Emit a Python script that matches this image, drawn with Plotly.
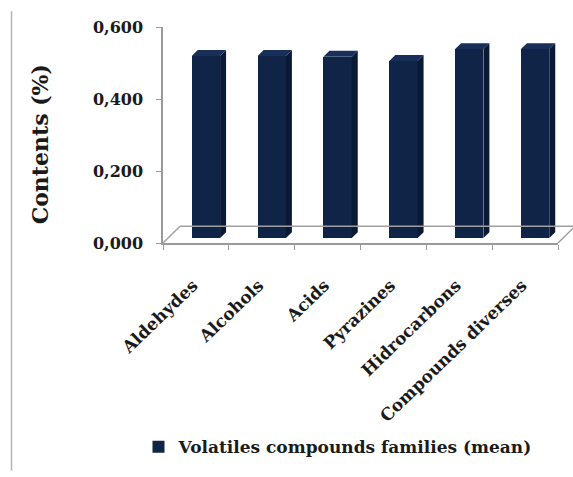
import plotly.graph_objects as go

# Mean content of each volatile compound family
categories = ["Aldehydes", "Alcohols", "Acids", "Pyrazines", "Hidrocarbons", "Compounds diverses"]
values = [0.506, 0.506, 0.504, 0.492, 0.525, 0.525]
y_ticks = [0.0, 0.2, 0.4, 0.6]
series_name = "Volatiles compounds families (mean)"
y_title = "Contents (%)"

W, H = 573, 477
M_L, M_R, M_T, M_B = 163, 15, 27, 231
plot_w = W - M_L - M_R
plot_h = H - M_T - M_B
y_max = 0.6
px_x = len(categories) / plot_w          # category units per pixel
px_y = y_max / plot_h                    # value units per pixel


def px_to_paper_x(px):
    return (px - M_L) / plot_w


def px_to_paper_y(py):
    return (H - M_B - py) / plot_h


# pseudo-3D geometry (in pixels)
bar_shift_x = 10                         # bars sit a bit back in the depth
bar_shift_y = 5
depth_px = 6
bar_width = 0.43

TXT = "#1a1a1a"
FONT = dict(family="DejaVu Serif", size=16, color=TXT, weight="bold")
NAVY = "#0f2447"
NAVY_SIDE = "#0a1a34"
NAVY_TOP = "#183059"

idx = list(range(len(categories)))
dx = depth_px * px_x
dy = depth_px * px_y

side_x, side_y, top_x, top_y = [], [], [], []
for i, v in zip(idx, values):
    xl, xr = i - bar_width / 2, i + bar_width / 2
    side_x += [xr, xr, xr + dx, xr + dx, xr, None]
    side_y += [0, v, v + dy, dy, 0, None]
    top_x += [xl, xr, xr + dx, xl + dx, xl, None]
    top_y += [v, v, v + dy, v + dy, v, None]

fig = go.Figure()
fig.add_trace(go.Bar(
    x=idx, y=values, width=bar_width, name=series_name,
    marker=dict(color=NAVY, line=dict(width=0)),
    xaxis="x2", yaxis="y2", showlegend=True,
))
fig.add_trace(go.Scatter(
    x=side_x, y=side_y, fill="toself", fillcolor=NAVY_SIDE, mode="lines",
    line=dict(width=0, color=NAVY_SIDE), xaxis="x2", yaxis="y2",
    showlegend=False, hoverinfo="skip",
))
fig.add_trace(go.Scatter(
    x=top_x, y=top_y, fill="toself", fillcolor=NAVY_TOP, mode="lines",
    line=dict(width=0, color=NAVY_TOP), xaxis="x2", yaxis="y2",
    showlegend=False, hoverinfo="skip",
))
# invisible trace to carry the category axis
fig.add_trace(go.Scatter(x=categories, y=[None] * len(categories), mode="markers",
                         showlegend=False, hoverinfo="skip"))

shift_x = bar_shift_x * px_x
shift_y = bar_shift_y * px_y
floor_d = 17  # depth of the floor, pixels

fig.update_layout(
    width=W, height=H, autosize=False,
    margin=dict(l=M_L, r=M_R, t=M_T, b=M_B, pad=0),
    paper_bgcolor="white", plot_bgcolor="white",
    separators=",.",
    font=FONT,
    bargap=0,
    xaxis=dict(
        type="category", categoryorder="array", categoryarray=categories,
        range=[-0.5, len(categories) - 0.5],
        tickson="boundaries", ticks="outside", ticklen=5, tickcolor="#9a9a9a",
        showline=True, linecolor="#9a9a9a", linewidth=1.5,
        showgrid=False, zeroline=False, tickangle=-44,
        tickfont=dict(family="DejaVu Serif", size=17, color=TXT, weight="bold"),
        ticklabelstandoff=24, ticklabelshift=-3,
    ),
    yaxis=dict(
        range=[0, y_max], tickvals=y_ticks, tickformat=".3f",
        ticks="outside", ticklen=5, tickcolor="#9a9a9a",
        showline=True, linecolor="#9a9a9a", linewidth=1.5,
        showgrid=False, zeroline=False, tickfont=FONT, ticklabelstandoff=10,
    ),
    xaxis2=dict(overlaying="x", range=[-0.5 - shift_x, len(categories) - 0.5 - shift_x],
                visible=False),
    yaxis2=dict(overlaying="y", range=[-shift_y, y_max - shift_y], visible=False),
    legend=dict(orientation="h", x=px_to_paper_x(338), y=px_to_paper_y(453),
                xanchor="center", yanchor="middle",
                font=dict(family="DejaVu Serif", size=17, color=TXT, weight="bold"),
                itemwidth=30),
    annotations=[
        dict(text=y_title, textangle=-90, xref="paper", yref="paper",
             x=px_to_paper_x(40), y=px_to_paper_y(146), xanchor="center", yanchor="middle",
             showarrow=False,
             font=dict(family="DejaVu Serif", size=22, color=TXT, weight="bold")),
    ],
    shapes=[
        # floor of the 3D plot area
        dict(type="line", xref="x domain", yref="y domain",
             x0=0, y0=0, x1=floor_d / plot_w, y1=floor_d / plot_h,
             line=dict(color="#a0a0a0", width=1.5)),
        dict(type="line", xref="x domain", yref="y domain",
             x0=floor_d / plot_w, y0=floor_d / plot_h,
             x1=(plot_w + floor_d) / plot_w, y1=floor_d / plot_h,
             line=dict(color="#a0a0a0", width=1.5)),
        dict(type="line", xref="x domain", yref="y domain",
             x0=1, y0=0, x1=(plot_w + floor_d) / plot_w, y1=floor_d / plot_h,
             line=dict(color="#a0a0a0", width=1.5)),
        # frame edge at the left
        dict(type="line", xref="paper", yref="paper",
             x0=px_to_paper_x(11.5), y0=px_to_paper_y(477),
             x1=px_to_paper_x(11.5), y1=px_to_paper_y(11),
             line=dict(color="#b4b4b4", width=1.5)),
    ],
)

fig.write_html("out.html")
